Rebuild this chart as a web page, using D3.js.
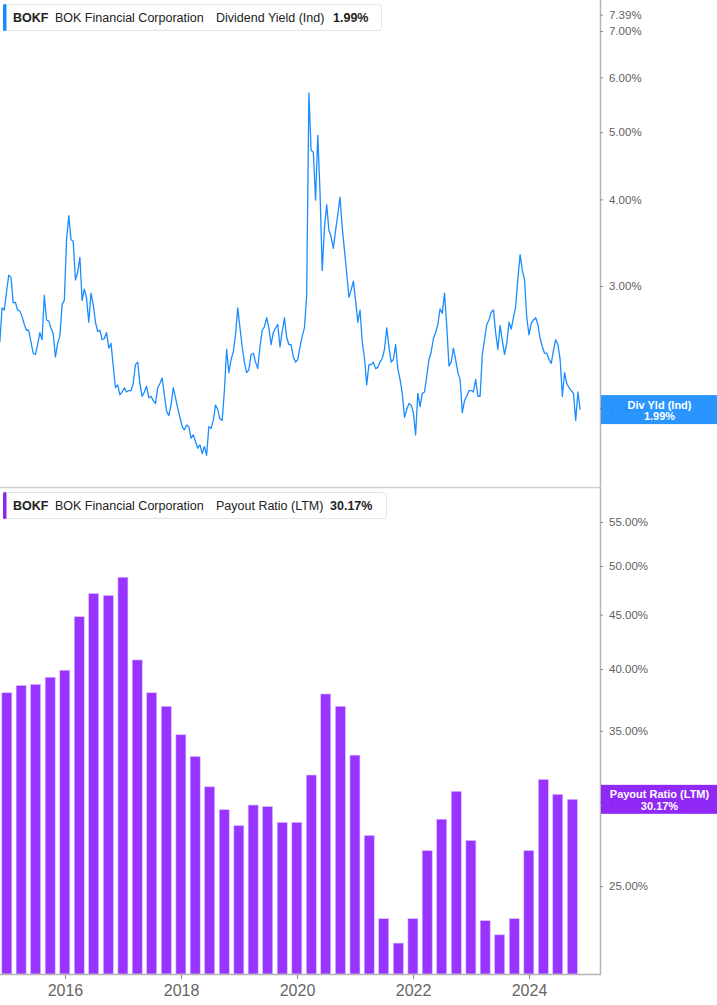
<!DOCTYPE html>
<html>
<head>
<meta charset="utf-8">
<script src="https://cdn.jsdelivr.net/npm/d3@7"></script>
<style>
  html, body { margin: 0; padding: 0; background: #ffffff; }
  svg { display: block; }
</style>
</head>
<body>
<svg id="chart" width="717" height="1005"></svg>
<script>
// ---------------- DATA ----------------
const ticker = "BOKF";
const companyName = "BOK Financial Corporation";

// Dividend yield (Ind), %, biweekly observations starting 2014-11-17
const yieldStartDate = "2014-11-17";
const yieldStepDays = 14;
const yieldValues = [
  2.49, 2.79, 2.77, 2.94, 3.11, 3.09, 2.84, 2.84, 2.77, 2.76,
  2.71, 2.64, 2.59, 2.59, 2.49, 2.40, 2.39, 2.47, 2.57, 2.51,
  2.91, 2.68, 2.67, 2.61, 2.56, 2.37, 2.48, 2.54, 2.82, 2.86,
  3.50, 3.79, 3.50, 3.48, 3.06, 3.14, 3.30, 2.86, 2.97, 2.88,
  2.66, 2.93, 2.82, 2.66, 2.58, 2.59, 2.51, 2.52, 2.57, 2.44,
  2.48, 2.30, 2.14, 2.16, 2.09, 2.11, 2.14, 2.11, 2.12, 2.12,
  2.17, 2.31, 2.33, 2.17, 2.08, 2.11, 2.15, 2.07, 2.08, 2.05,
  2.03, 2.14, 2.17, 2.21, 2.09, 1.98, 1.95, 2.02, 2.14, 2.07,
  2.00, 1.94, 1.88, 1.86, 1.89, 1.88, 1.81, 1.83, 1.79, 1.75,
  1.77, 1.72, 1.76, 1.71, 1.88, 1.87, 1.92, 2.02, 1.99, 1.93,
  1.92, 2.12, 2.43, 2.25, 2.35, 2.41, 2.55, 2.79, 2.61, 2.45,
  2.33, 2.25, 2.27, 2.39, 2.40, 2.33, 2.28, 2.45, 2.59, 2.62,
  2.70, 2.61, 2.47, 2.57, 2.61, 2.64, 2.45, 2.58, 2.70, 2.53,
  2.47, 2.47, 2.37, 2.33, 2.35, 2.45, 2.54, 2.61, 2.91, 5.70,
  4.71, 4.68, 3.99, 4.95, 4.10, 3.16, 3.64, 3.93, 3.61, 3.53,
  3.40, 3.61, 3.80, 4.03, 3.64, 3.38, 3.13, 2.89, 2.96, 3.05,
  2.86, 2.66, 2.77, 2.49, 2.36, 2.16, 2.31, 2.31, 2.33, 2.28,
  2.29, 2.33, 2.36, 2.43, 2.61, 2.45, 2.33, 2.35, 2.47, 2.28,
  2.20, 2.10, 1.94, 1.99, 2.03, 2.02, 1.97, 1.83, 2.10, 2.01,
  2.10, 2.11, 2.22, 2.35, 2.41, 2.52, 2.57, 2.64, 2.78, 2.74,
  2.93, 2.63, 2.30, 2.33, 2.44, 2.35, 2.25, 2.20, 1.97, 2.05,
  2.08, 2.12, 2.12, 2.11, 2.20, 2.08, 2.08, 2.39, 2.51, 2.64,
  2.68, 2.75, 2.77, 2.57, 2.43, 2.63, 2.50, 2.39, 2.48, 2.66,
  2.60, 2.70, 2.80, 3.08, 3.33, 3.16, 3.06, 2.70, 2.55, 2.65,
  2.68, 2.70, 2.64, 2.52, 2.45, 2.40, 2.40, 2.35, 2.32, 2.42,
  2.51, 2.47, 2.35, 2.08, 2.25, 2.17, 2.14, 2.12, 2.10, 1.92,
  2.11, 1.99
];
const yieldLast = "1.99%";
const yieldTicks = [2, 3, 4, 5, 6, 7, 7.39];

// Payout ratio (LTM), %, quarterly (quarter end)
const payoutQuarters = [
  "2014-12-31",
  "2015-03-31", "2015-06-30", "2015-09-30", "2015-12-31",
  "2016-03-31", "2016-06-30", "2016-09-30", "2016-12-31",
  "2017-03-31", "2017-06-30", "2017-09-30", "2017-12-31",
  "2018-03-31", "2018-06-30", "2018-09-30", "2018-12-31",
  "2019-03-31", "2019-06-30", "2019-09-30", "2019-12-31",
  "2020-03-31", "2020-06-30", "2020-09-30", "2020-12-31",
  "2021-03-31", "2021-06-30", "2021-09-30", "2021-12-31",
  "2022-03-31", "2022-06-30", "2022-09-30", "2022-12-31",
  "2023-03-31", "2023-06-30", "2023-09-30", "2023-12-31",
  "2024-03-31", "2024-06-30", "2024-09-30"
];
const payoutValues = [
  38.0,
  38.6, 38.7, 39.3, 39.9,
  44.8, 47.1, 46.9, 48.8,
  40.8, 38.0, 36.9, 34.7,
  33.1, 31.0, 29.5, 28.5,
  29.8, 29.7, 28.7, 28.7,
  31.8, 37.9, 36.9, 33.2,
  27.9, 23.3, 22.1, 23.3,
  27.0, 28.9, 30.7, 27.6,
  23.2, 22.5, 23.3, 27.0,
  31.5, 30.5, 30.17
];
const payoutLast = "30.17%";
const payoutTicks = [25, 30, 35, 40, 45, 50, 55];

const yearTicks = [2016, 2018, 2020, 2022, 2024];

// ---------------- LAYOUT ----------------
const W = 717;
const plotRight = 600;
const top1 = 0, bottom1 = 487;
const top2 = 488, bottom2 = 974;
const blue = "#1a8cff";
const purple = "#9933ff";
const purpleLabel = "#8b1ef5";
const blueLabel = "#1f8fff";
const axisGray = "#b5b5b5";
const tickTextColor = "#5f5f5f";
const uiFont = "'Liberation Sans', Arial, sans-serif";

const parse = d3.utcParse("%Y-%m-%d");
const start = parse(yieldStartDate);
const yieldData = yieldValues.map((v, i) => ({ date: d3.utcDay.offset(start, i * yieldStepDays), value: v }));
const payoutData = payoutQuarters.map((q, i) => ({ date: parse(q), value: payoutValues[i] }));

const svg = d3.select("#chart");

const x = d3.scaleUtc()
  .domain([parse("2014-11-18"), parse("2025-03-23")])
  .range([0, plotRight]);

const y1 = d3.scaleLog().domain([1.5387, 7.759]).range([bottom1, top1]);
const y2 = d3.scaleLog().domain([20.67, 59.2]).range([bottom2, top2]);

// clip paths
const defs = svg.append("defs");
defs.append("clipPath").attr("id", "clip1").append("rect")
  .attr("x", 0).attr("y", top1).attr("width", plotRight).attr("height", bottom1 - top1);
defs.append("clipPath").attr("id", "clip2").append("rect")
  .attr("x", 0).attr("y", top2).attr("width", plotRight).attr("height", bottom2 - top2);

// ---------------- TOP PANEL: line ----------------
const line = d3.line().x(d => x(d.date)).y(d => y1(d.value));
svg.append("path")
  .datum(yieldData)
  .attr("clip-path", "url(#clip1)")
  .attr("fill", "none")
  .attr("stroke", blue)
  .attr("stroke-width", 1.3)
  .attr("stroke-linejoin", "round")
  .attr("d", line);

// ---------------- BOTTOM PANEL: bars ----------------
const barW = 10;
svg.append("g").attr("clip-path", "url(#clip2)")
  .selectAll("rect")
  .data(payoutData)
  .join("rect")
  .attr("x", d => x(d.date) - barW / 2)
  .attr("y", d => y2(d.value))
  .attr("width", barW)
  .attr("height", d => bottom2 - y2(d.value))
  .attr("fill", purple)
  .attr("stroke", "#d9bdff")
  .attr("stroke-width", 0.6);

// ---------------- AXES ----------------
const axG = svg.append("g");
axG.append("line").attr("x1", plotRight + 0.5).attr("x2", plotRight + 0.5)
  .attr("y1", 0).attr("y2", bottom2 + 0.5).attr("stroke", axisGray).attr("stroke-width", 1.5);
axG.append("line").attr("x1", 0).attr("x2", plotRight + 1)
  .attr("y1", bottom1 + 0.5).attr("y2", bottom1 + 0.5).attr("stroke", "#d0d0d0").attr("stroke-width", 1.5);
axG.append("line").attr("x1", 0).attr("x2", plotRight + 1)
  .attr("y1", bottom2 + 0.5).attr("y2", bottom2 + 0.5).attr("stroke", axisGray).attr("stroke-width", 1.5);

function styleRightAxis(g) {
  g.select(".domain").remove();
  g.selectAll(".tick line").attr("stroke", "#888").attr("stroke-width", 1);
  g.selectAll(".tick text")
    .attr("fill", tickTextColor)
    .attr("font-family", uiFont)
    .attr("font-size", "11.5px")
    .attr("x", 9);
}

svg.append("g")
  .attr("transform", `translate(${plotRight},0)`)
  .call(d3.axisRight(y1).tickValues(yieldTicks).tickSize(3).tickFormat(d => d.toFixed(2) + "%"))
  .call(styleRightAxis);

svg.append("g")
  .attr("transform", `translate(${plotRight},0)`)
  .call(d3.axisRight(y2).tickValues(payoutTicks).tickSize(3).tickFormat(d => d.toFixed(2) + "%"))
  .call(styleRightAxis);

const xAxis = svg.append("g")
  .attr("transform", `translate(0,${bottom2 + 1})`)
  .call(d3.axisBottom(x)
    .tickValues(yearTicks.map(yr => new Date(Date.UTC(yr, 0, 1))))
    .tickSize(4)
    .tickFormat(d3.utcFormat("%Y")));
xAxis.select(".domain").remove();
xAxis.selectAll(".tick line").attr("stroke", "#888");
xAxis.selectAll(".tick text")
  .attr("fill", "#666")
  .attr("font-family", "'Liberation Sans Narrow', 'Liberation Sans', Arial, sans-serif")
  .attr("font-size", "16px")
  .attr("dy", "0.9em");

// ---------------- LAST VALUE LABELS ----------------
function lastLabel(yPos, color, title, value) {
  const h = 29;
  const g = svg.append("g");
  g.append("rect")
    .attr("x", plotRight + 1).attr("y", yPos - h / 2)
    .attr("width", W - plotRight - 1).attr("height", h)
    .attr("fill", color).attr("fill-opacity", 0.95);
  g.append("text")
    .attr("x", (plotRight + W) / 2 + 1).attr("y", yPos - 1)
    .attr("text-anchor", "middle")
    .attr("fill", "#fff").attr("font-family", uiFont).attr("font-size", "11px")
    .attr("font-weight", "bold")
    .text(title);
  g.append("text")
    .attr("x", (plotRight + W) / 2 + 1).attr("y", yPos + 10.5)
    .attr("text-anchor", "middle")
    .attr("fill", "#fff").attr("font-family", uiFont).attr("font-size", "11px")
    .attr("font-weight", "bold")
    .text(value);
}
lastLabel(y1(yieldValues[yieldValues.length - 1]), blueLabel, "Div Yld (Ind)", yieldLast);
lastLabel(y2(payoutValues[payoutValues.length - 1]), purpleLabel, "Payout Ratio (LTM)", payoutLast);

// ---------------- LEGENDS ----------------
function legend(topY, color, metric, value, valueX, boxW) {
  const g = svg.append("g").attr("transform", `translate(0,${topY})`);
  g.append("rect")
    .attr("x", 3.5).attr("y", 0.5).attr("width", boxW).attr("height", 26)
    .attr("rx", 3).attr("fill", "#fff").attr("stroke", "#e4e4e4");
  g.append("rect")
    .attr("x", 3).attr("y", 0).attr("width", 3.5).attr("height", 27)
    .attr("rx", 1.5).attr("fill", color);
  const t = g.append("text")
    .attr("y", 17.5)
    .attr("font-family", uiFont).attr("font-size", "12.5px").attr("fill", "#222");
  t.append("tspan").attr("x", 13).attr("font-weight", "bold").text(ticker);
  t.append("tspan").attr("x", 55).text(companyName);
  t.append("tspan").attr("x", 216).text(metric);
  t.append("tspan").attr("x", valueX).attr("font-weight", "bold").text(value);
}
legend(4, blue, "Dividend Yield (Ind)", yieldLast, 333, 378);
legend(top2 + 4, "#8a2be2", "Payout Ratio (LTM)", payoutLast, 330, 383);
</script>
</body>
</html>
